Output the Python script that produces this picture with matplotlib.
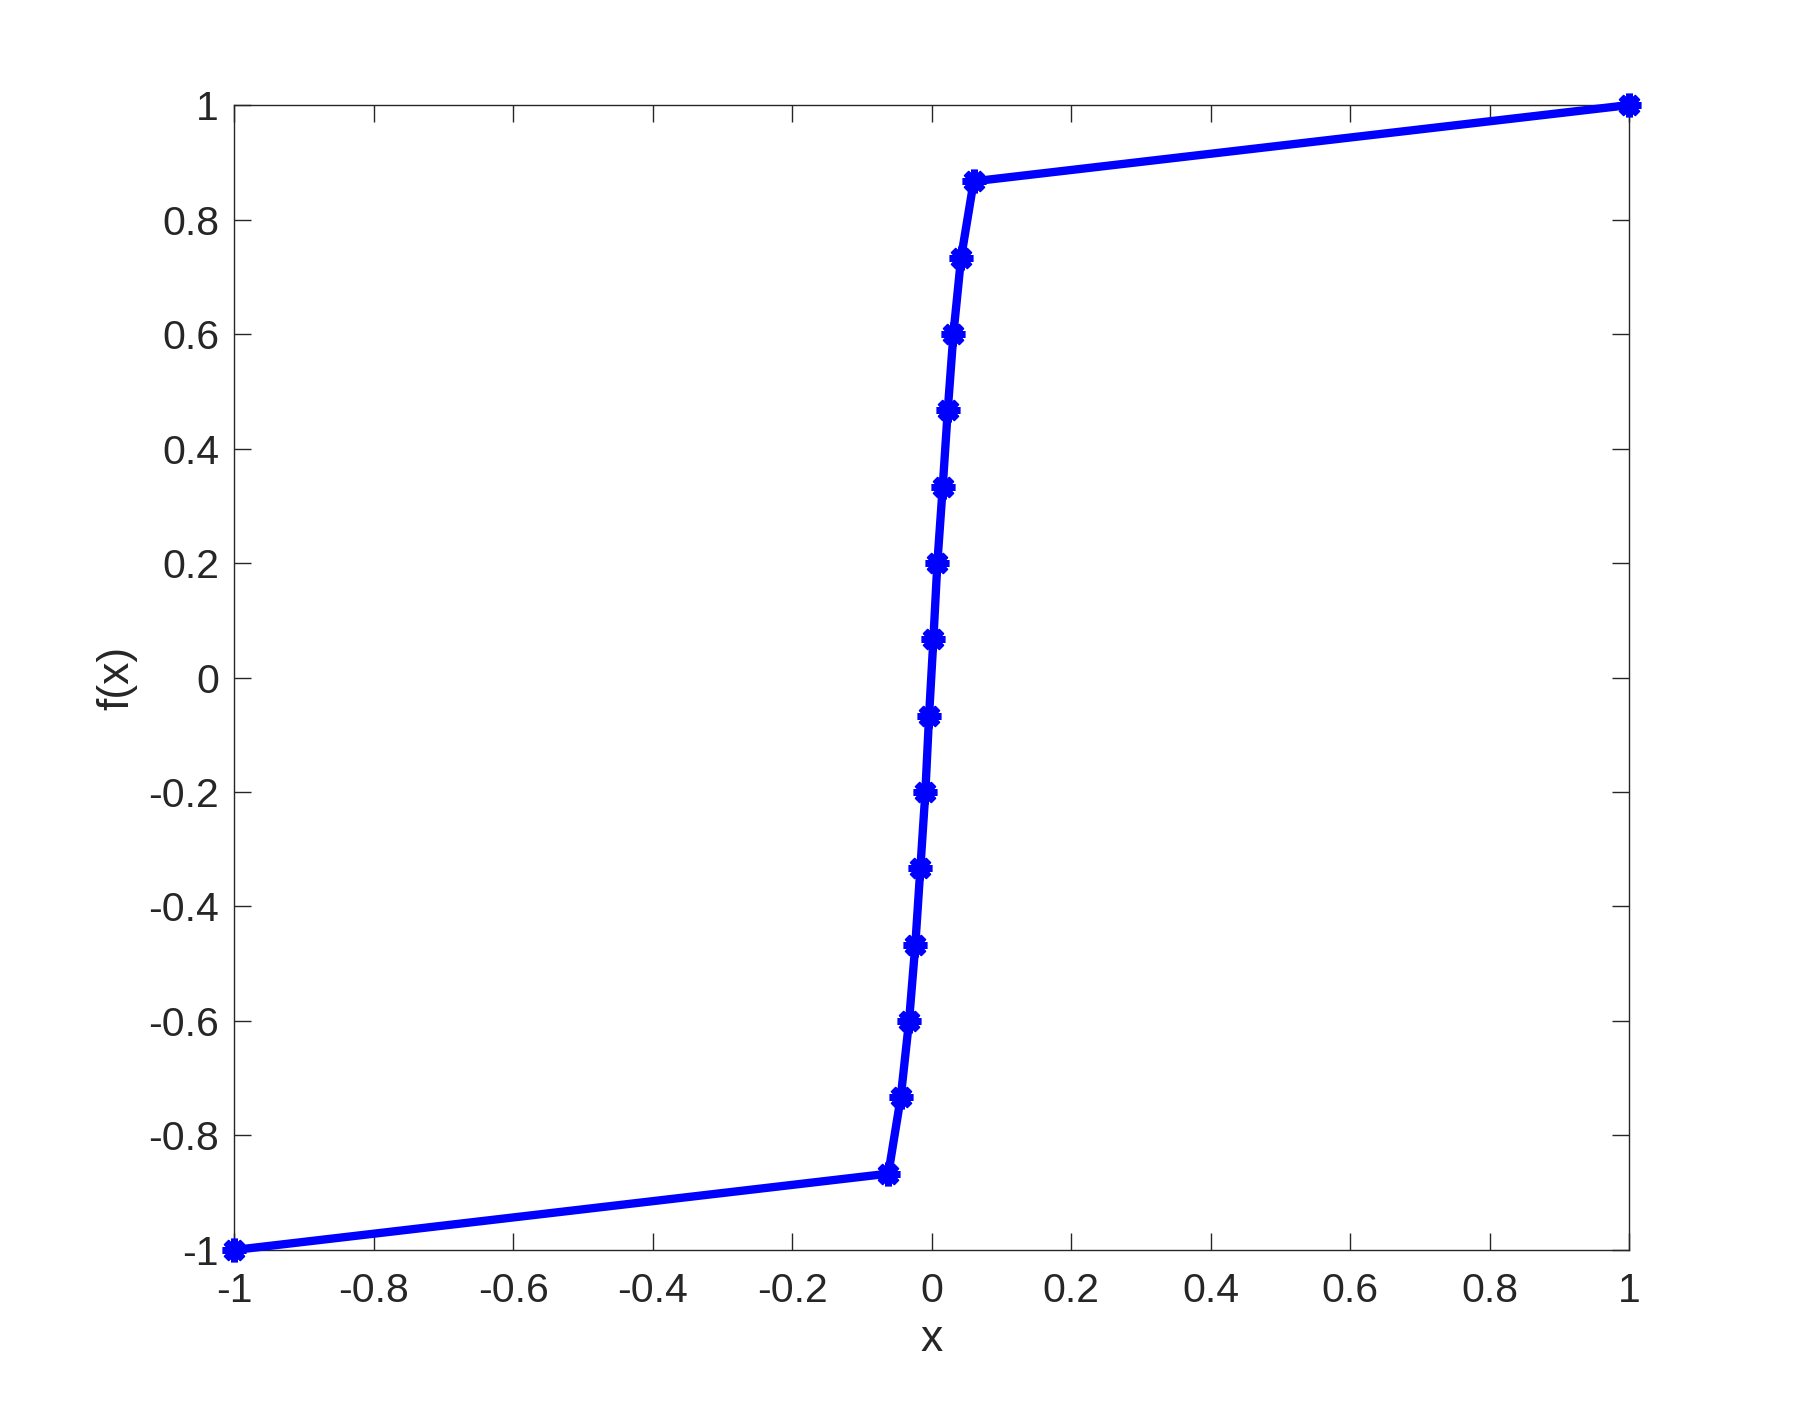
import matplotlib
matplotlib.use("Agg")
import matplotlib.pyplot as plt

plt.rcParams['font.family'] = ['Liberation Sans', 'DejaVu Sans']

x_vals = [-1.0, -0.0624, -0.0446, -0.0327, -0.0237, -0.0165, -0.0093, -0.0040,
          0.0022, 0.0079, 0.0156, 0.0228, 0.0309, 0.0419, 0.0600, 1.0]
y_vals = [-1.0, -0.8667, -0.7333, -0.6, -0.4667, -0.3333, -0.2, -0.0667,
          0.0667, 0.2, 0.3333, 0.4667, 0.6, 0.7333, 0.8667, 1.0]
x_ticks = [-1, -0.8, -0.6, -0.4, -0.2, 0, 0.2, 0.4, 0.6, 0.8, 1]
y_ticks = [-1, -0.8, -0.6, -0.4, -0.2, 0, 0.2, 0.4, 0.6, 0.8, 1]
tick_labels_x = ['-1', '-0.8', '-0.6', '-0.4', '-0.2', '0', '0.2', '0.4', '0.6', '0.8', '1']
tick_labels_y = ['-1', '-0.8', '-0.6', '-0.4', '-0.2', '0', '0.2', '0.4', '0.6', '0.8', '1']

fig = plt.figure(figsize=(18, 14.04), dpi=100)
ax = fig.add_axes([0.1302, 0.1097, 0.775, 0.8155])
ax.plot(x_vals, y_vals, color='#0000ff', linewidth=6, marker=(8, 2, 0),
        markersize=17, markeredgewidth=5, markeredgecolor='#0000ff',
        markerfacecolor='#0000ff', clip_on=False, zorder=3)
ax.set_xlim(-1, 1)
ax.set_ylim(-1, 1)
ax.set_xticks(x_ticks)
ax.set_xticklabels(tick_labels_x)
ax.set_yticks(y_ticks)
ax.set_yticklabels(tick_labels_y)
ax.tick_params(direction='in', length=12.5, width=1.0, colors='#262626',
               labelsize=29.5, top=True, right=True)
ax.tick_params(axis='x', pad=16)
ax.tick_params(axis='y', pad=11)
for s in ax.spines.values():
    s.set_color('#262626')
    s.set_linewidth(1.0)
ax.set_xlabel('x', fontsize=32, color='#262626', labelpad=6)
ax.set_ylabel('f(x)', fontsize=32, color='#262626', labelpad=8)
fig.savefig('out.png', dpi=100, facecolor='white')
